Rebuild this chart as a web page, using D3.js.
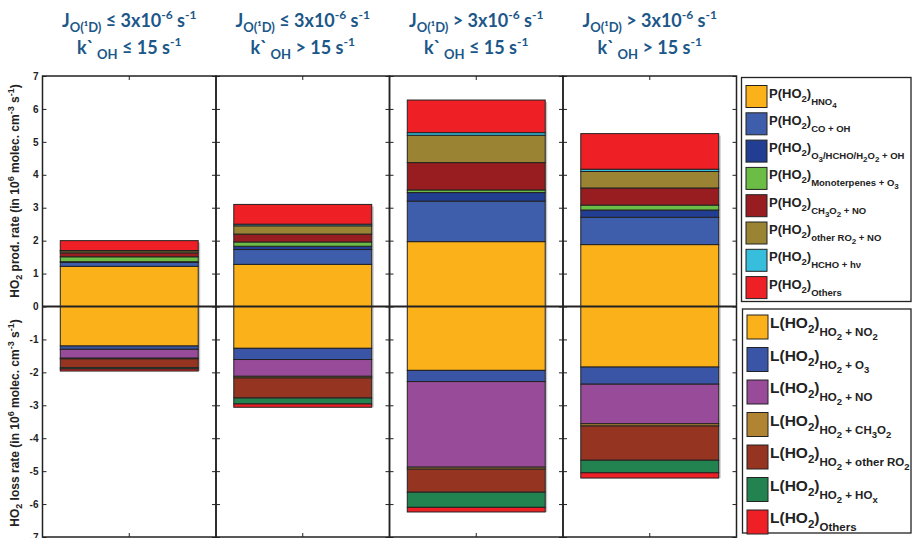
<!DOCTYPE html>
<html>
<head>
<meta charset="utf-8">
<script src="https://cdn.jsdelivr.net/npm/d3@7"></script>
<style>
  html, body { margin: 0; padding: 0; background: #fff; }
  svg { display: block; }
</style>
</head>
<body>
<svg id="chart" width="912" height="538"></svg>
<script>
// Four regimes: photolysis frequency J(O1D) and OH reactivity k'OH
const regimes = ["lowJ_lowK", "lowJ_highK", "highJ_lowK", "highJ_highK"];
const regimeJ = ["≤", "≤", ">", ">"];
const regimeK = ["≤", ">", "≤", ">"];

// HO2 production terms (10^6 molec. cm^-3 s^-1), stacked upward in this order
const pHNO4        = [1.22, 1.28, 1.97, 1.88];
const pCOOH        = [0.12, 0.45, 1.23, 0.83];
const pO3HCHOH2O2  = [0.02, 0.10, 0.26, 0.22];
const pMonoterpO3  = [0.15, 0.13, 0.08, 0.15];
const pCH3O2NO     = [0.12, 0.24, 0.83, 0.52];
const pOtherRO2NO  = [0.06, 0.25, 0.83, 0.50];
const pHCHOhv      = [0.01, 0.05, 0.08, 0.07];
const pOthers      = [0.30, 0.60, 0.99, 1.08];

// HO2 loss terms (10^6 molec. cm^-3 s^-1), stacked downward in this order
const lHO2NO2      = [1.20, 1.27, 1.94, 1.84];
const lHO2O3       = [0.10, 0.34, 0.34, 0.52];
const lHO2NO       = [0.27, 0.51, 2.60, 1.20];
const lHO2CH3O2    = [0.02, 0.05, 0.06, 0.07];
const lHO2OtherRO2 = [0.27, 0.61, 0.70, 1.04];
const lHO2HOx      = [0.04, 0.18, 0.46, 0.38];
const lOthers      = [0.06, 0.10, 0.14, 0.16];

const yTicks = [-7, -6, -5, -4, -3, -2, -1, 0, 1, 2, 3, 4, 5, 6, 7];

const prodSeries = [
  {key: "pHNO4", values: pHNO4, color: "#FBB11A",
   label: [["P(HO",0],["2",1],[")",0],["HNO",2],["4",3]]},
  {key: "pCOOH", values: pCOOH, color: "#3E5EAB",
   label: [["P(HO",0],["2",1],[")",0],["CO + OH",2]]},
  {key: "pO3HCHOH2O2", values: pO3HCHOH2O2, color: "#223E93",
   label: [["P(HO",0],["2",1],[")",0],["O",2],["3",3],["/HCHO/H",2],["2",3],["O",2],["2",3],[" + OH",2]]},
  {key: "pMonoterpO3", values: pMonoterpO3, color: "#6CBD45",
   label: [["P(HO",0],["2",1],[")",0],["Monoterpenes + O",2],["3",3]]},
  {key: "pCH3O2NO", values: pCH3O2NO, color: "#981D21",
   label: [["P(HO",0],["2",1],[")",0],["CH",2],["3",3],["O",2],["2",3],[" + NO",2]]},
  {key: "pOtherRO2NO", values: pOtherRO2NO, color: "#9A8434",
   label: [["P(HO",0],["2",1],[")",0],["other RO",2],["2",3],[" + NO",2]]},
  {key: "pHCHOhv", values: pHCHOhv, color: "#36BEDC",
   label: [["P(HO",0],["2",1],[")",0],["HCHO + hν",2]]},
  {key: "pOthers", values: pOthers, color: "#EE2025",
   label: [["P(HO",0],["2",1],[")",0],["Others",2]]}
];

const lossSeries = [
  {key: "lHO2NO2", values: lHO2NO2, color: "#FBB11A",
   label: [["L(HO",0],["2",1],[")",0],["HO",2],["2",3],[" + NO",2],["2",3]]},
  {key: "lHO2O3", values: lHO2O3, color: "#3A55A5",
   label: [["L(HO",0],["2",1],[")",0],["HO",2],["2",3],[" + O",2],["3",3]]},
  {key: "lHO2NO", values: lHO2NO, color: "#974B98",
   label: [["L(HO",0],["2",1],[")",0],["HO",2],["2",3],[" + NO",2]]},
  {key: "lHO2CH3O2", values: lHO2CH3O2, color: "#B08431",
   label: [["L(HO",0],["2",1],[")",0],["HO",2],["2",3],[" + CH",2],["3",3],["O",2],["2",3]]},
  {key: "lHO2OtherRO2", values: lHO2OtherRO2, color: "#953421",
   label: [["L(HO",0],["2",1],[")",0],["HO",2],["2",3],[" + other RO",2],["2",3]]},
  {key: "lHO2HOx", values: lHO2HOx, color: "#238350",
   label: [["L(HO",0],["2",1],[")",0],["HO",2],["2",3],[" + HO",2],["x",3]]},
  {key: "lOthers", values: lOthers, color: "#EE2025",
   label: [["L(HO",0],["2",1],[")",0],["Others",2]]}
];

// Table for d3.stack: production positive, loss negative
const table = regimes.map((r, i) => {
  const row = {regime: r};
  prodSeries.forEach(s => row[s.key] = s.values[i]);
  lossSeries.forEach(s => row[s.key] = -s.values[i]);
  return row;
});
const allSeries = prodSeries.concat(lossSeries);
const colorOf = Object.fromEntries(allSeries.map(s => [s.key, s.color]));

const stacked = d3.stack()
  .keys(allSeries.map(s => s.key))
  .offset(d3.stackOffsetDiverging)(table);

const svg = d3.select("#chart");
const ink = "#222";
const plotLeft = 42.5, plotRight = 736.5, plotTop = 76, plotBottom = 537;

const x = d3.scaleBand().domain(regimes)
  .range([plotLeft, plotRight])
  .paddingInner(0.205).paddingOuter(0.1025);
const y = d3.scaleLinear().domain([-7, 7]).range([plotBottom, plotTop]);
const step = x.step();

// Rich text: parts are [text, style index]
function richText(g, parts, styles) {
  let cur = 0;
  parts.forEach(([t, k]) => {
    const st = styles[k];
    g.append("tspan")
      .attr("font-size", st.size)
      .attr("dy", st.shift - cur)
      .text(t);
    cur = st.shift;
  });
}

// Stacked bars (with a faint shadow on the right edge)
const barG = svg.append("g");
barG.selectAll("rect.shadow")
  .data(regimes)
  .join("rect")
  .attr("class", "shadow")
  .attr("x", r => x(r) + x.bandwidth())
  .attr("width", 2)
  .attr("y", (r, i) => y(d3.sum(prodSeries, s => s.values[i])) + 2)
  .attr("height", (r, i) => y(-d3.sum(lossSeries, s => s.values[i])) - y(d3.sum(prodSeries, s => s.values[i])) - 2)
  .attr("fill", "#c8c8c8");
stacked.forEach(layer => {
  barG.append("g").selectAll("rect")
    .data(layer)
    .join("rect")
    .attr("x", d => x(d.data.regime))
    .attr("width", x.bandwidth())
    .attr("y", d => y(Math.max(d[0], d[1])))
    .attr("height", d => Math.abs(y(d[0]) - y(d[1])))
    .attr("fill", colorOf[layer.key])
    .attr("stroke", ink)
    .attr("stroke-width", 1);
});

// Panel frames with inward ticks on both sides and a center tick top/bottom
regimes.forEach((r, i) => {
  const x0 = plotLeft + i * step, x1 = x0 + step;
  const g = svg.append("g");
  g.append("g").attr("transform", `translate(${x0},0)`)
    .call(d3.axisLeft(y).tickValues(yTicks).tickSizeInner(-4).tickSizeOuter(0)
      .tickPadding(4).tickFormat(i === 0 ? (d => String(d)) : () => ""))
    .call(a => a.select(".domain").remove())
    .call(a => a.selectAll("line").attr("stroke", ink))
    .call(a => a.selectAll("text").attr("font-family", "Liberation Sans, Arial, sans-serif")
      .attr("font-weight", "bold").attr("font-size", 10).attr("fill", ink));
  g.append("g").attr("transform", `translate(${x1},0)`)
    .call(d3.axisRight(y).tickValues(yTicks).tickSizeInner(-4).tickSizeOuter(0).tickFormat(() => ""))
    .call(a => a.select(".domain").remove())
    .call(a => a.selectAll("line").attr("stroke", ink));
  const xc = x(r) + x.bandwidth() / 2;
  g.append("line").attr("x1", xc).attr("x2", xc).attr("y1", plotTop).attr("y2", plotTop + 4).attr("stroke", ink);
  g.append("line").attr("x1", xc).attr("x2", xc).attr("y1", plotBottom).attr("y2", plotBottom - 4).attr("stroke", ink);
  g.append("rect").attr("x", x0).attr("y", plotTop).attr("width", step).attr("height", plotBottom - plotTop)
    .attr("fill", "none").attr("stroke", ink).attr("stroke-width", 1.5);
});

// Zero line
svg.append("line")
  .attr("x1", plotLeft).attr("x2", plotRight)
  .attr("y1", y(0)).attr("y2", y(0))
  .attr("stroke", ink).attr("stroke-width", 2);

// Regime headers
const headStyles = [{size: 18, shift: 0}, {size: 13, shift: 5}, {size: 12, shift: -8}];
regimes.forEach((r, i) => {
  const xc = x(r) + x.bandwidth() / 2;
  const t1 = svg.append("text").attr("x", xc).attr("y", 27)
    .attr("text-anchor", "middle").attr("font-family", "Lato, sans-serif")
    .attr("font-weight", "bold").attr("fill", "#1B5788");
  richText(t1, [["J",0],["O(¹D)",1],[` ${regimeJ[i]} 3x10`,0],["-6",2],[" s",0],["-1",2]], headStyles);
  const t2 = svg.append("text").attr("x", xc).attr("y", 54)
    .attr("text-anchor", "middle").attr("font-family", "Lato, sans-serif")
    .attr("font-weight", "bold").attr("fill", "#1B5788");
  richText(t2, [["k`",0],[" OH",1],[` ${regimeK[i]} 15 s`,0],["-1",2]], headStyles);
});

// Y axis titles
const axStyles = [{size: 12, shift: 0}, {size: 9, shift: 3}, {size: 9, shift: -5}];
function axisTitle(cy, parts) {
  const t = svg.append("text")
    .attr("transform", `translate(19,${cy}) rotate(-90)`)
    .attr("text-anchor", "middle")
    .attr("font-family", "Liberation Sans, Arial, sans-serif")
    .attr("font-weight", "bold").attr("fill", ink);
  richText(t, parts, axStyles);
}
axisTitle(191, [["HO",0],["2",1],[" prod. rate (in 10",0],["6",2],[" molec. cm",0],["-3",2],[" s",0],["-1",2],[")",0]]);
axisTitle(423, [["HO",0],["2",1],[" loss rate (in 10",0],["6",2],[" molec. cm",0],["-3",2],[" s",0],["-1",2],[")",0]]);

// Legends
function legend(series, box, sw, styles, textDx, pitch, baseDy) {
  const g = svg.append("g");
  g.append("rect").attr("x", box.x).attr("y", box.y).attr("width", box.w).attr("height", box.h)
    .attr("fill", "#fff").attr("stroke", ink).attr("stroke-width", 1.3);
  series.forEach((s, i) => {
    const top = box.y + sw.top + i * pitch;
    g.append("rect").attr("x", sw.x).attr("y", top).attr("width", sw.w).attr("height", sw.h)
      .attr("fill", s.color).attr("stroke", ink).attr("stroke-width", 1);
    const t = g.append("text").attr("x", sw.x + sw.w + textDx).attr("y", top + baseDy)
      .attr("font-family", "Liberation Sans, Arial, sans-serif")
      .attr("font-weight", "bold").attr("fill", ink);
    richText(t, s.label, styles);
  });
}
legend(prodSeries, {x: 741.5, y: 77.5, w: 169.5, h: 224},
  {x: 746, top: 8, w: 21, h: 22},
  [{size: 13, shift: 0}, {size: 9.5, shift: 4}, {size: 9.5, shift: 7}, {size: 8, shift: 10}],
  2, 27.3, 12);
legend(lossSeries, {x: 742.5, y: 309, w: 168.5, h: 224},
  {x: 747, top: 6, w: 21, h: 24},
  [{size: 15.5, shift: 0}, {size: 11.5, shift: 5}, {size: 11.5, shift: 8}, {size: 9.5, shift: 12}],
  2, 32.5, 13);
</script>
</body>
</html>
